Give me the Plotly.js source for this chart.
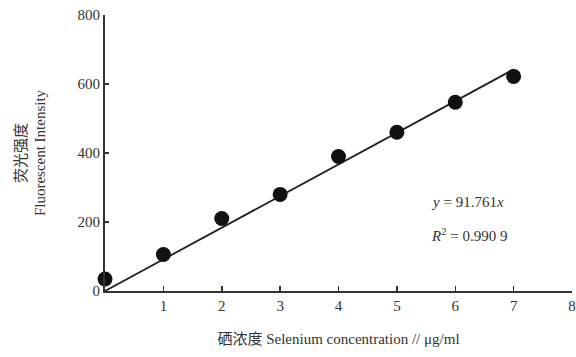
<!DOCTYPE html>
<html><head><meta charset="utf-8">
<script src="https://cdn.plot.ly/plotly-3.0.1.min.js"></script>
<style>html,body{margin:0;padding:0;background:#fff;}#chart{width:576px;height:357px;}</style>
</head><body><div id="chart"></div>
<script>
const concentration = [0, 1, 2, 3, 4, 5, 6, 7];
const intensity = [35, 106, 210, 280, 390, 460, 547, 622];
const fitSlope = 91.761;
const fitX = [0, 7];
const fitY = fitX.map(x => fitSlope * x);
const xTicks = [1, 2, 3, 4, 5, 6, 7, 8];
const yTicks = [0, 200, 400, 600, 800];

const font = {family: '"Liberation Serif", "Noto Sans CJK SC", serif', size: 15, color: '#333'};

const data = [
  {x: fitX, y: fitY, mode: 'lines', line: {color: '#222', width: 1.8}, hoverinfo: 'skip', showlegend: false},
  {x: concentration, y: intensity, mode: 'markers', marker: {color: '#111', size: 15}, showlegend: false, cliponaxis: false}
];

const layout = {
  width: 576, height: 357,
  margin: {l: 105, r: 4, t: 15, b: 66},
  paper_bgcolor: '#fff', plot_bgcolor: '#fff',
  font: font,
  xaxis: {
    range: [0, 8], tickvals: xTicks, ticktext: xTicks.map(String),
    showline: true, linecolor: '#333', linewidth: 2, showgrid: false, zeroline: false,
    ticks: 'inside', ticklen: 5, tickwidth: 1.5, tickcolor: '#333',
    title: {text: '硒浓度 Selenium concentration // μg/ml', font: font, standoff: 20}
  },
  yaxis: {
    range: [0, 800], tickvals: yTicks, ticktext: yTicks.map(String),
    showline: true, linecolor: '#333', linewidth: 2, showgrid: false, zeroline: false,
    ticks: 'inside', ticklen: 4, tickwidth: 1.5, tickcolor: '#333',
    title: {text: '荧光强度<br>Fluorescent Intensity', font: font, standoff: 28}
  },
  annotations: [
    {x: 5.55, y: 258, xref: 'x', yref: 'y', xanchor: 'left', showarrow: false,
     text: '<i>y</i> = 91.761<i>x</i>', font: font},
    {x: 5.55, y: 162, xref: 'x', yref: 'y', xanchor: 'left', showarrow: false,
     text: '<i>R</i><sup>2</sup> = 0.990 9', font: font}
  ]
};

Plotly.newPlot('chart', data, layout, {displayModeBar: false, staticPlot: true});
</script>
</body></html>
